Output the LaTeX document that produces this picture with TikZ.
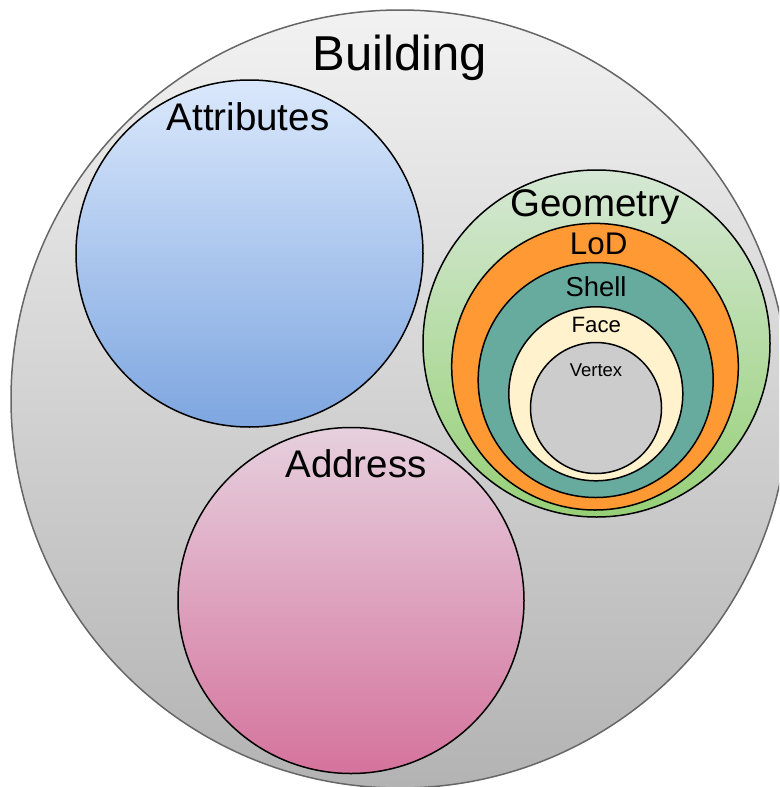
\documentclass[tikz,border=0pt]{standalone}
\usepackage{fontspec}
\setmainfont{Liberation Sans}
\usetikzlibrary{shapes.geometric}
\definecolor{bldTop}{HTML}{F2F2F2}
\definecolor{bldBot}{HTML}{B3B3B3}
\definecolor{bldLine}{HTML}{666666}
\definecolor{attTop}{HTML}{DAE8FC}
\definecolor{attBot}{HTML}{7EA6E0}
\definecolor{adrTop}{HTML}{E6D0DE}
\definecolor{adrBot}{HTML}{D5739D}
\definecolor{geoTop}{HTML}{D5E8D4}
\definecolor{geoBot}{HTML}{97D077}
\definecolor{lodFill}{HTML}{FF9933}
\definecolor{shellFill}{HTML}{67AB9F}
\definecolor{faceFill}{HTML}{FFF2CC}
\definecolor{vertexFill}{HTML}{CCCCCC}
\tikzset{
  ring/.style={circle, draw=black, line width=1.5pt, inner sep=0pt},
  lbl/.style={anchor=base, inner sep=0pt, text=black},
}
\newcommand{\fs}[1]{\fontsize{#1}{#1}\selectfont}
\begin{document}
\begin{tikzpicture}[x=1pt,y=-1pt]
\useasboundingbox (0,0) rectangle (779,787);
\clip (0,0) rectangle (779,787);
% Building
\node[ring, draw=bldLine, minimum size=778pt, top color=bldTop, bottom color=bldBot] (building) at (400,399) {};
\node[lbl, font=\fs{49}] (buildingT) at (400,70) {Building};
% Attributes
\node[ring, minimum size=347pt, top color=attTop, bottom color=attBot] (attributes) at (249.5,253.5) {};
\node[lbl, font=\fs{38.5}] (attributesT) at (248,130.7) {Attributes};
% Address
\node[ring, minimum size=346pt, top color=adrTop, bottom color=adrBot] (address) at (351,600.5) {};
\node[lbl, font=\fs{38.5}] (addressT) at (356,477.3) {Address};
% Geometry
\node[ring, minimum size=347pt, top color=geoTop, bottom color=geoBot] (geometry) at (596.5,343.5) {};
\node[lbl, font=\fs{38.5}] (geometryT) at (595,216.8) {Geometry};
% LoD
\node[ring, minimum size=286.6pt, fill=lodFill] (lod) at (595,366.7) {};
\node[lbl, font=\fs{31.3}] (lodT) at (598.7,254) {LoD};
% Shell
\node[ring, minimum size=235pt, fill=shellFill] (shell) at (595.7,380) {};
\node[lbl, font=\fs{27.4}] (shellT) at (596,296) {Shell};
% Face
\node[ring, minimum size=174pt, fill=faceFill] (face) at (595.8,393.8) {};
\node[lbl, font=\fs{22.2}] (faceT) at (596.3,332.3) {Face};
% Vertex
\node[ring, minimum size=131pt, fill=vertexFill] (vertex) at (596,408) {};
\node[lbl, font=\fs{18.5}] (vertexT) at (596,376.7) {Vertex};
\end{tikzpicture}
\end{document}
